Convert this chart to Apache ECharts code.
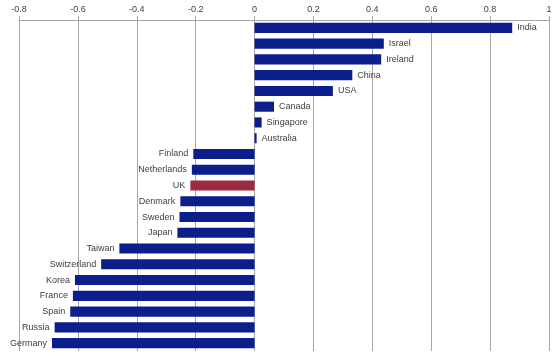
<!DOCTYPE html>
<html>
<head>
<meta charset="utf-8">
<script src="https://cdn.jsdelivr.net/npm/echarts@6/dist/echarts.min.js"></script>
<style>html,body{margin:0;padding:0;background:#fff;}#c{width:555px;height:356px;}</style>
</head>
<body>
<div id="c"></div>
<script>
var categories = ["India","Israel","Ireland","China","USA","Canada","Singapore","Australia","Finland","Netherlands","UK","Denmark","Sweden","Japan","Taiwan","Switzerland","Korea","France","Spain","Russia","Germany"];
var values = [0.875,0.439,0.43,0.332,0.266,0.066,0.024,0.007,-0.208,-0.213,-0.218,-0.252,-0.255,-0.262,-0.459,-0.521,-0.61,-0.617,-0.626,-0.679,-0.688];
var highlight = ["UK"];

var baseColor = '#0c1d8c';
var hiColor = '#9c2a45';
var data = values.map(function(v, i){
  return {
    value: v,
    itemStyle: {color: highlight.indexOf(categories[i]) >= 0 ? hiColor : baseColor},
    label: {position: v >= 0 ? 'right' : 'left'}
  };
});

var chart = echarts.init(document.getElementById('c'));
chart.setOption({
  animation: false,
  grid: {left: 19, right: 6, top: 20, bottom: 5},
  xAxis: {
    type: 'value', position: 'top', min: -0.8, max: 1, interval: 0.2,
    axisLine: {show: true, lineStyle: {color: '#a6a6a6', width: 1}},
    axisTick: {show: true, inside: false, length: 4, lineStyle: {color: '#a6a6a6'}},
    axisLabel: {color: '#404040', fontFamily: 'Liberation Sans', fontSize: 9, margin: 6},
    splitLine: {show: true, lineStyle: {color: '#a6a6a6', width: 1}}
  },
  yAxis: {
    type: 'category', data: categories, inverse: true,
    axisLine: {show: false}, axisTick: {show: false}, axisLabel: {show: false}, splitLine: {show: false}
  },
  series: [{
    type: 'bar', data: data, barCategoryGap: '36%',
    label: {show: true, formatter: '{b}', color: '#404040', fontFamily: 'Liberation Sans', fontSize: 9, distance: 5}
  }]
});
</script>
</body>
</html>
